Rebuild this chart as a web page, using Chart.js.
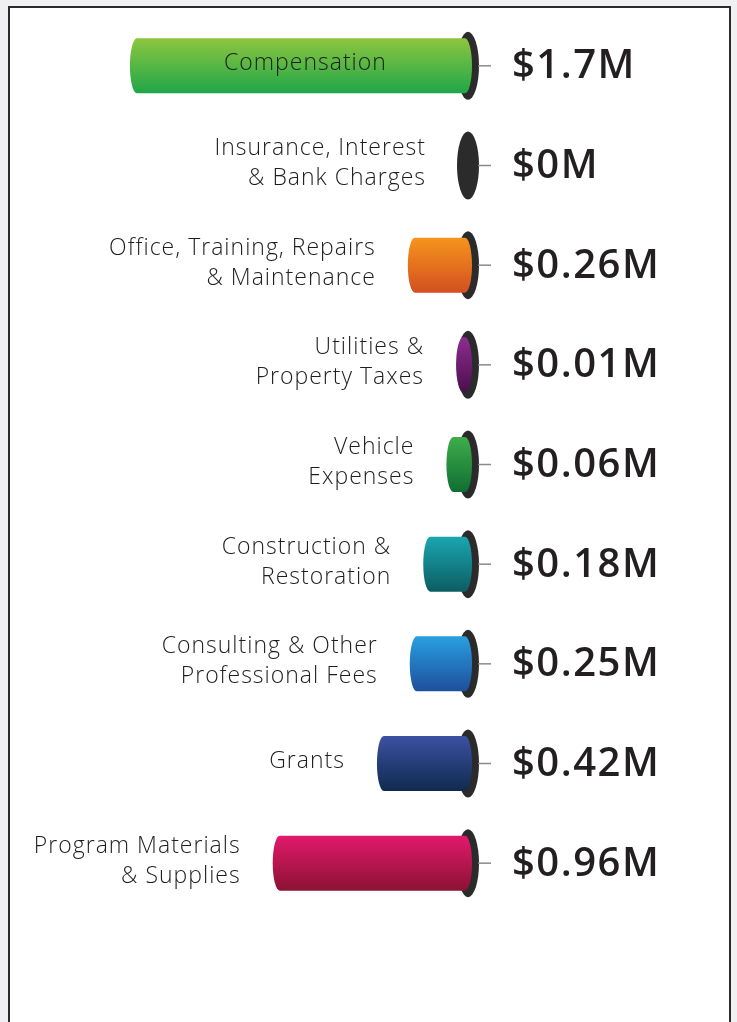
<!DOCTYPE html>
<html>
<head>
<meta charset="utf-8">
<script src="https://cdn.jsdelivr.net/npm/chart.js@4.4.1/dist/chart.umd.min.js"></script>
<style>
  html, body { margin: 0; padding: 0; background: #f0f0f2; }
  body { width: 737px; height: 1022px; position: relative; overflow: hidden; }
  #frame {
    position: absolute; left: 8px; top: 6px; width: 719px; height: 1040px;
    background: #ffffff; border: 2px solid #2b2b2b;
  }
  #chart { position: absolute; left: 0; top: 0; }
</style>
</head>
<body>
<div id="frame"></div>
<canvas id="chart" width="737" height="1022"></canvas>
<script>
// expense categories (multi-line labels) and amounts in $ millions
const categories = [
    ['Compensation'],
    ['Insurance, Interest', '& Bank Charges'],
    ['Office, Training, Repairs', '& Maintenance'],
    ['Utilities &', 'Property Taxes'],
    ['Vehicle', 'Expenses'],
    ['Construction &', 'Restoration'],
    ['Consulting & Other', 'Professional Fees'],
    ['Grants'],
    ['Program Materials', '& Supplies']
];
const amounts = [1.7, 0, 0.26, 0.01, 0.06, 0.18, 0.25, 0.42, 0.96];
const valueLabels = ['$1.7M', '$0M', '$0.26M', '$0.01M', '$0.06M', '$0.18M', '$0.25M', '$0.42M', '$0.96M'];
const topColors = ['#8dc63f', '#333333', '#f7941d', '#8e2c8f', '#3dae4a', '#1ba6b0', '#2a9fe0', '#3b51a3', '#e3196c'];
const bottomColors = ['#1fa64a', '#222222', '#d2501f', '#4a0f4c', '#116d33', '#0c5d62', '#1d4f9d', '#102a4e', '#8b1233'];

const LABEL_FONT = '300 23px "Open Sans"';
const VALUE_FONT = '600 40px "Open Sans"';

const cylinderPlugin = {
    id: 'cylinders',
    afterDatasetsDraw(chart) {
        const ctx = chart.ctx;
        const meta = chart.getDatasetMeta(0);
        meta.data.forEach((bar, i) => {
            const y = bar.y;
            const base = bar.base;
            const left = bar.x;
            const half = bar.height / 2;
            const rx = 7;

            ctx.save();
            // end cap
            ctx.fillStyle = '#2b2b2b';
            ctx.beginPath();
            ctx.ellipse(base + 3, y, 11, half + 6.5, 0, 0, Math.PI * 2);
            ctx.fill();

            // connector tick
            ctx.strokeStyle = '#8a8a8a';
            ctx.lineWidth = 1.5;
            ctx.beginPath();
            ctx.moveTo(base + 13, y);
            ctx.lineTo(base + 26, y);
            ctx.stroke();

            // cylinder body
            if (amounts[i] > 0) {
                const grad = ctx.createLinearGradient(0, y - half, 0, y + half);
                grad.addColorStop(0, topColors[i]);
                grad.addColorStop(1, bottomColors[i]);
                ctx.fillStyle = grad;
                ctx.beginPath();
                ctx.ellipse(left, y, rx, half, 0, Math.PI / 2, Math.PI * 1.5);
                ctx.lineTo(base, y - half);
                ctx.ellipse(base, y, rx, half, 0, -Math.PI / 2, Math.PI / 2);
                ctx.closePath();
                ctx.fill();
            }

            // value
            ctx.font = VALUE_FONT;
            ctx.letterSpacing = '1.5px';
            ctx.fillStyle = '#231f20';
            ctx.textAlign = 'left';
            ctx.textBaseline = 'middle';
            ctx.fillText(valueLabels[i], base + 47, y + 1);

            // category label
            const lines = categories[i];
            ctx.font = LABEL_FONT;
            ctx.letterSpacing = '1px';
            ctx.fillStyle = '#1e1e1e';
            const lineH = 30;
            const widest = Math.max(...lines.map(l => ctx.measureText(l).width));
            const barW = base - left;
            let tx, align;
            if (barW > widest + 40) {
                tx = (left - rx + base) / 2 + 8;
                align = 'center';
            } else {
                tx = left - rx - 32;
                align = 'right';
            }
            ctx.textAlign = align;
            lines.forEach((line, k) => {
                ctx.fillText(line, tx, y - 2 + (k - (lines.length - 1) / 2) * lineH);
            });
            ctx.restore();
        });
    }
};

new Chart(document.getElementById('chart'), {
    type: 'bar',
    data: {
        labels: categories,
        datasets: [{
            data: amounts,
            backgroundColor: 'rgba(0,0,0,0)',
            borderWidth: 0,
            barThickness: 55
        }]
    },
    options: {
        indexAxis: 'y',
        responsive: false,
        animation: false,
        layout: { padding: { left: 79, right: 272, top: 16, bottom: 109 } },
        scales: {
            x: { reverse: true, min: 0, max: 2.0, display: false },
            y: { display: false }
        },
        plugins: {
            legend: { display: false },
            tooltip: { enabled: false }
        }
    },
    plugins: [cylinderPlugin]
});
</script>
</body>
</html>
